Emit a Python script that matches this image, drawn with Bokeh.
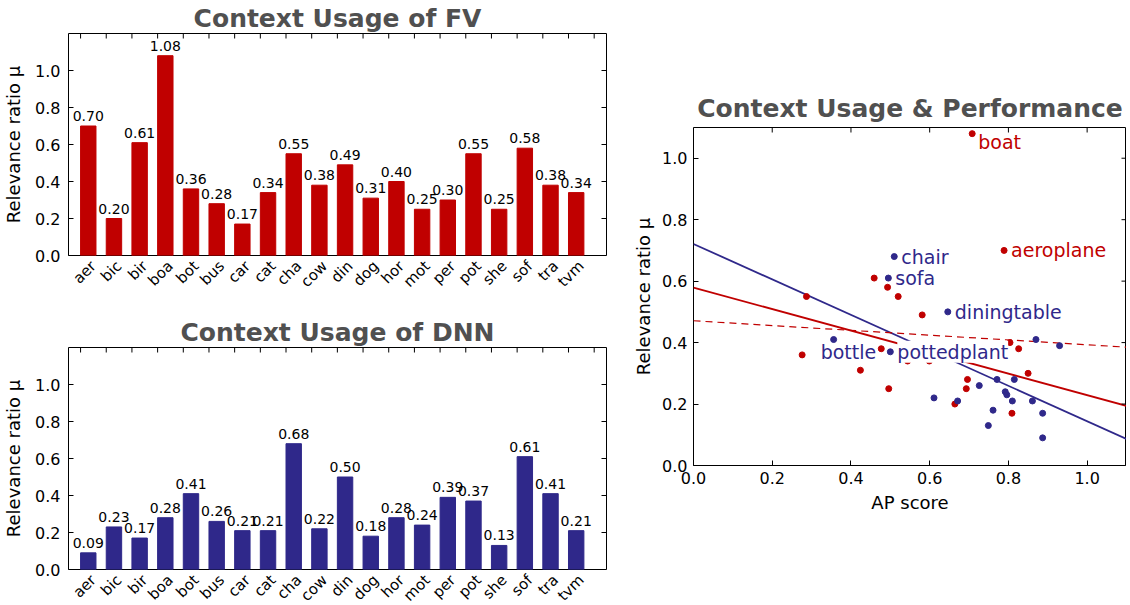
import numpy as np
from bokeh.plotting import figure
from bokeh.models import ColumnDataSource, LinearAxis, FixedTicker, Range1d, Label, PrintfTickFormatter, Spacer
from bokeh.layouts import row, column
from bokeh.embed import file_html
from bokeh.resources import INLINE
from bokeh.core.properties import value

# ---------------- data ----------------
categories = ["aer", "bic", "bir", "boa", "bot", "bus", "car", "cat", "cha", "cow",
              "din", "dog", "hor", "mot", "per", "pot", "she", "sof", "tra", "tvm"]
class_names = ["aeroplane", "bicycle", "bird", "boat", "bottle", "bus", "car", "cat", "chair", "cow",
               "diningtable", "dog", "horse", "motorbike", "person", "pottedplant", "sheep", "sofa",
               "train", "tvmonitor"]
fv_mu = [0.70, 0.20, 0.61, 1.08, 0.36, 0.28, 0.17, 0.34, 0.55, 0.38,
         0.49, 0.31, 0.40, 0.25, 0.30, 0.55, 0.25, 0.58, 0.38, 0.34]
dnn_mu = [0.09, 0.23, 0.17, 0.28, 0.41, 0.26, 0.21, 0.21, 0.68, 0.22,
          0.50, 0.18, 0.28, 0.24, 0.39, 0.37, 0.13, 0.61, 0.41, 0.21]
fv_ap = [0.789, 0.664, 0.459, 0.708, 0.276, 0.696, 0.809, 0.599, 0.520, 0.477,
         0.581, 0.424, 0.804, 0.693, 0.850, 0.287, 0.496, 0.493, 0.826, 0.544]
dnn_ap = [0.887, 0.796, 0.887, 0.771, 0.356, 0.726, 0.810, 0.861, 0.510, 0.611,
          0.646, 0.761, 0.815, 0.792, 0.930, 0.500, 0.749, 0.495, 0.870, 0.671]
# fitted trend lines: (intercept, slope)
fit_dnn = (0.721, -0.577)
fit_fv = (0.579, -0.350)
fit_fv_dashed = (0.471, -0.078)
# annotated classes: (class name, series)
annotated = [("boat", "fv"), ("aeroplane", "fv"), ("chair", "dnn"), ("sofa", "dnn"),
             ("diningtable", "dnn"), ("bottle", "dnn"), ("pottedplant", "dnn")]
y_ticks = [0.0, 0.2, 0.4, 0.6, 0.8, 1.0]
ap_ticks = [0.0, 0.2, 0.4, 0.6, 0.8, 1.0]

# ---------------- style ----------------
RED = "#C00000"
BLUE = "#2F288A"
TITLE_COLOR = "#505050"
FONT = "DejaVu Sans"


def base_style(p, title_standoff):
    p.xgrid.visible = False
    p.ygrid.visible = False
    p.outline_line_color = "black"
    p.outline_line_width = 1
    p.background_fill_color = "white"
    p.border_fill_color = "white"
    p.min_border = 0
    p.title.text_font = FONT
    p.title.text_font_size = "25px"
    p.title.text_font_style = "bold"
    p.title.text_color = TITLE_COLOR
    p.title.align = "center"
    p.title.standoff = title_standoff


def style_axis(ax, label, standoff=8, label_standoff=8, size="16px"):
    ax.major_tick_in = 5
    ax.major_tick_out = 0
    ax.minor_tick_line_color = None
    ax.axis_line_color = None
    ax.major_label_standoff = standoff
    ax.major_label_text_font = FONT
    ax.major_label_text_font_size = size
    ax.major_label_text_color = "black"
    ax.axis_label = label
    ax.axis_label_text_font = FONT
    ax.axis_label_text_font_size = "18px"
    ax.axis_label_text_font_style = "normal"
    ax.axis_label_text_color = "black"
    ax.axis_label_standoff = label_standoff


def inner_ticks(p, xt, yt):
    # tick marks pointing inward on the top and right frame edges
    p.ray(x=xt, y=[p.y_range.end] * len(xt), length=5, length_units="screen",
          angle=-np.pi / 2, line_color="black", line_width=1)
    p.ray(x=[p.x_range.end] * len(yt), y=yt, length=5, length_units="screen",
          angle=np.pi, line_color="black", line_width=1)


def bar_chart(title, values, color):
    n = len(categories)
    xr = Range1d(-0.47, n + 0.48)
    p = figure(title=title, x_range=xr, y_range=Range1d(0, 1.2),
               frame_width=538, frame_height=222, output_backend="svg",
               toolbar_location=None, x_axis_location=None)
    base_style(p, 2)
    p.min_border_left = 61
    p.min_border_right = 8
    src = ColumnDataSource(dict(x=np.arange(n) + 0.3, mu=values,
                                lab=["%.2f" % v for v in values]))
    p.vbar(x="x", top="mu", bottom=0, width=0.6, source=src,
           fill_color=color, line_color=color)
    p.text(x="x", y="mu", text="lab", source=src, text_align="center",
           text_baseline="bottom", y_offset=-5, text_font=value(FONT),
           text_font_size="14px", text_color="black")
    inner_ticks(p, list(range(n + 1)), y_ticks)
    ya = p.left[0]
    ya.ticker = FixedTicker(ticks=y_ticks)
    ya.formatter = PrintfTickFormatter(format="%.1f")
    style_axis(ya, "Relevance ratio μ")
    # bottom category labels (shifted range so labels sit centred under bars)
    p.extra_x_ranges = {"lab": Range1d(xr.start - 0.5, xr.end - 0.5)}
    bx = LinearAxis(x_range_name="lab", ticker=FixedTicker(ticks=list(range(n))),
                    major_label_overrides={i: c for i, c in enumerate(categories)},
                    major_label_orientation=np.pi / 4, major_tick_in=0, major_tick_out=0,
                    minor_tick_line_color=None, axis_line_color=None,
                    major_label_standoff=8, major_label_text_font=FONT,
                    major_label_text_font_size="15px", major_label_text_color="black")
    p.add_layout(bx, "below")
    return p


p1 = bar_chart("Context Usage of FV", fv_mu, RED)
p1.min_border_bottom = 59
p2 = bar_chart("Context Usage of DNN", dnn_mu, BLUE)
p2.min_border_bottom = 26

# ---------------- scatter ----------------
p3 = figure(title="Context Usage & Performance", x_range=Range1d(0, 1.1), y_range=Range1d(0, 1.1),
            frame_width=433, frame_height=338, output_backend="svg", toolbar_location=None)
base_style(p3, 9)
p3.min_border_left = 79
p3.min_border_right = 0
for ax, lab in ((p3.below[0], "AP score"), (p3.left[0], "Relevance ratio μ")):
    ax.ticker = FixedTicker(ticks=ap_ticks if ax is p3.below[0] else y_ticks)
    ax.formatter = PrintfTickFormatter(format="%.1f")
    style_axis(ax, lab, standoff=6, label_standoff=5)

xs = np.array([p3.x_range.start, p3.x_range.end])
p3.line(xs, fit_dnn[0] + fit_dnn[1] * xs, line_color=BLUE, line_width=1.8)
p3.line(xs, fit_fv[0] + fit_fv[1] * xs, line_color=RED, line_width=1.8)
p3.line(xs, fit_fv_dashed[0] + fit_fv_dashed[1] * xs, line_color=RED, line_width=1.2,
        line_dash="7 5")
inner_ticks(p3, ap_ticks, y_ticks)

p3.scatter(fv_ap, fv_mu, size=6, fill_color=RED, line_color=RED)
p3.scatter(dnn_ap, dnn_mu, size=6, fill_color=BLUE, line_color=BLUE)

label_offsets = {"boat": (6, -8), "bottle": (-13, -12)}
for name, series in annotated:
    i = class_names.index(name)
    if series == "fv":
        x, y, c = fv_ap[i], fv_mu[i], RED
    else:
        x, y, c = dnn_ap[i], dnn_mu[i], BLUE
    dx, dy = label_offsets.get(name, (7, 0))
    lbl = Label(x=x, y=y, text=name, x_offset=dx, y_offset=dy, text_baseline="middle",
                text_align="left", text_color=c, text_font=FONT, text_font_size="19px")
    if name == "pottedplant":
        lbl.background_fill_color = "white"
    p3.add_layout(lbl)

layout = row(column(p1, p2), column(Spacer(width=10, height=87), p3))
open("out.html", "w").write(file_html(layout, INLINE))
